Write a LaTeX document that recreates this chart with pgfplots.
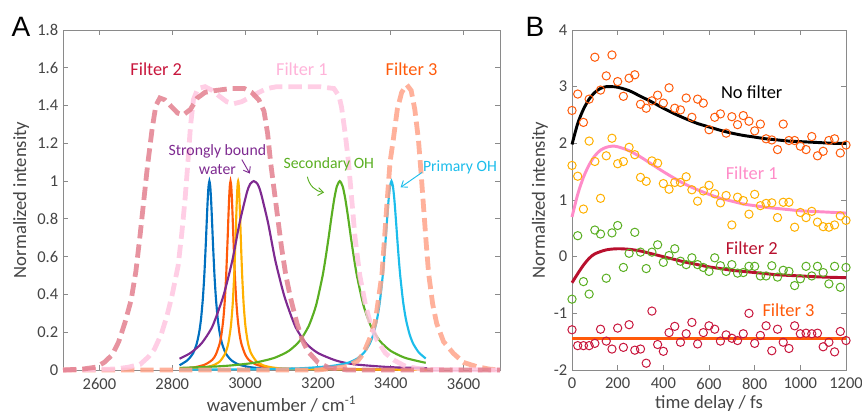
\documentclass[border=0pt]{standalone}
\usepackage{fontspec}
\setmainfont{Carlito}
\newfontfamily\arialfont{Liberation Sans}
\usepackage{pgfplots}
\pgfplotsset{compat=1.18}
\usepackage{pgfplotstable}
\usetikzlibrary{arrows.meta}

\definecolor{axgray}{HTML}{8A8A8A}
\definecolor{txgray}{HTML}{454545}
\definecolor{fTwo}{HTML}{E3808F}
\definecolor{fOne}{HTML}{FFC6E0}
\definecolor{fThree}{HTML}{FFA389}
\definecolor{cBlue}{HTML}{0070C0}
\definecolor{cRed}{HTML}{FF5A0A}
\definecolor{cYel}{HTML}{FFB000}
\definecolor{cPur}{HTML}{7E2A90}
\definecolor{cGrn}{HTML}{5AAF22}
\definecolor{cCya}{HTML}{1CBDEB}
\definecolor{tCrim}{HTML}{C8163C}
\definecolor{tPink}{HTML}{FFB3D9}
\definecolor{lPink}{HTML}{FF8CC8}
\definecolor{lDark}{HTML}{B8102E}

% panel B measurements
\pgfplotstableread{
t y
0 2.58
25 2.87
50 2.37
75 2.78
100 3.52
125 2.94
150 3.19
175 3.56
200 3.09
225 2.83
250 3.15
275 3.21
300 2.69
325 2.62
350 2.75
375 2.85
400 2.71
425 2.98
450 2.62
475 2.59
500 2.80
525 2.46
550 2.78
575 2.71
600 2.24
625 2.46
650 2.52
675 2.18
700 2.47
725 2.33
750 2.49
775 2.39
800 2.22
825 2.34
850 2.08
875 2.06
900 1.89
925 2.34
950 2.05
975 2.05
1000 1.95
1025 1.89
1050 2.12
1075 1.78
1100 1.86
1125 2.05
1150 2.08
1175 1.83
1200 1.97
}\nofilt
\pgfplotstableread{
t y
0 1.61
25 1.42
50 0.84
75 2.04
100 1.68
125 1.03
150 1.78
175 2.09
200 1.64
225 1.68
250 1.93
275 1.80
300 1.40
325 1.33
350 1.69
375 1.65
400 1.29
425 1.19
450 1.31
475 1.31
500 1.41
525 1.18
550 0.98
575 1.16
600 1.26
625 1.11
650 0.95
675 1.08
700 0.56
725 1.05
750 0.99
775 0.75
800 1.10
825 0.90
850 0.94
875 0.95
900 0.69
925 0.96
950 0.96
975 0.52
1000 0.78
1025 0.69
1050 0.80
1075 0.61
1100 0.53
1125 0.52
1150 0.56
1175 0.72
1200 0.64
}\filtone
\pgfplotstableread{
t y
0 -0.75
25 0.37
50 -0.44
75 -0.66
100 0.47
125 0.40
150 -0.38
175 0.42
200 0.55
225 -0.19
250 0.06
275 0.43
300 0.08
325 -0.21
350 0.08
375 0.21
400 -0.10
425 0.02
450 0.14
475 -0.08
500 -0.14
525 -0.02
550 -0.14
575 -0.19
600 -0.26
625 -0.02
650 -0.16
675 -0.26
700 -0.14
725 -0.29
750 -0.28
775 -0.17
800 -0.17
825 -0.34
850 -0.34
875 -0.16
900 -0.36
925 -0.24
950 -0.26
975 -0.51
1000 -0.39
1025 -0.17
1050 -0.34
1075 -0.17
1100 -0.28
1125 -0.48
1150 -0.17
1175 -0.54
1200 -0.19
}\filttwo
\pgfplotstableread{
t y
0 -1.29
25 -1.57
50 -1.57
75 -1.57
100 -1.53
125 -1.28
150 -1.49
175 -1.63
200 -1.26
225 -1.60
250 -1.20
275 -1.65
300 -1.63
325 -1.88
350 -0.96
375 -1.55
400 -1.67
425 -1.34
450 -1.23
475 -1.51
500 -1.36
525 -1.16
550 -1.54
575 -1.34
600 -1.22
625 -1.28
650 -1.49
675 -1.38
700 -1.44
725 -1.48
750 -1.36
775 -1.00
800 -1.53
825 -1.39
850 -1.22
875 -1.66
900 -1.28
925 -1.51
950 -1.62
975 -1.22
1000 -1.36
1025 -1.35
1050 -1.36
1075 -1.35
1100 -1.59
1125 -1.51
1150 -1.68
1175 -1.32
1200 -1.48
}\filtthree

\pgfplotsset{
  mstyle/.style={
    scale only axis, clip=false,
    axis line style={axgray, line width=0.75pt},
    tick style={axgray, line width=0.75pt},
    tick align=inside, major tick length=3.6pt,
    xtick pos=both, ytick pos=both,
    tick label style={font=\fontsize{12.4}{14}\selectfont, text=txgray},
    xticklabel style={yshift=-2.5pt},
    label style={font=\fontsize{14}{16}\selectfont, text=txgray},
    /pgf/number format/.cd, fixed, 1000 sep={}, assume math mode=true,
  },
  filt/.style={line width=3.6pt, dash pattern=on 10pt off 4.5pt, opacity=0.85},
  peak/.style={line width=1.6pt, smooth, tension=0.4},
  dots/.style={only marks, mark=o, mark size=3.1pt, mark options={line width=0.75pt}},
  fit/.style={line width=2.2pt, no marks, smooth},
}

\begin{document}
\begin{tikzpicture}[x=0.75pt, y=0.75pt]
\useasboundingbox (0,0) rectangle (862,-415);
\coordinate (pa) at (63,-370);
\coordinate (pb) at (572,-370);

\node[font=\arialfont\fontsize{21}{24}\selectfont] at (21,-27) {A};
\node[font=\arialfont\fontsize{21}{24}\selectfont] at (535,-27) {B};

% ---- panel A
\begin{axis}[mstyle,
  at={(pa)}, anchor=south west,
  width=327.75pt, height=255pt,
  xmin=2500, xmax=3700, ymin=0, ymax=1.8,
  xtick={2600,2800,3000,3200,3400,3600},
  ytick={0,0.2,0.4,0.6,0.8,1,1.2,1.4,1.6,1.8},
  xlabel={wavenumber / cm\textsuperscript{-1}},
  ylabel={Normalized intensity},
  xlabel style={at={(axis description cs:0.5,-0.1)}, anchor=center},
  ylabel style={at={(axis description cs:-0.096,0.5)}, anchor=center},
]
% solid bands
\addplot[peak, cBlue] coordinates {(2820,0.025) (2842,0.052) (2857,0.088) (2867,0.138) (2874,0.2) (2879,0.27) (2884,0.377) (2888,0.5) (2892,0.662) (2894.5,0.777) (2897,0.887) (2899.5,0.97) (2902,1) (2904.5,0.97) (2907,0.887) (2909.5,0.777) (2912,0.662) (2916,0.5) (2920,0.377) (2925,0.27) (2930,0.2) (2937,0.138) (2947,0.088) (2962,0.052) (2984,0.028) (3022,0.013) (3102,0.005) (3500,0.001)};
\addplot[peak, cRed] coordinates {(2820,0.007) (2860,0.014) (2890,0.029) (2910,0.054) (2920,0.083) (2930,0.138) (2935,0.187) (2940,0.265) (2944,0.36) (2948,0.5) (2952,0.692) (2954,0.8) (2956,0.9) (2958,0.973) (2960,1) (2962,0.973) (2964,0.9) (2966,0.8) (2968,0.692) (2972,0.5) (2976,0.36) (2980,0.265) (2985,0.187) (2990,0.138) (3000,0.083) (3010,0.054) (3030,0.029) (3060,0.014) (3100,0.007) (3500,0.001)};
\addplot[peak, cYel] coordinates {(2820,0.005) (2880,0.012) (2911,0.024) (2931,0.046) (2946,0.09) (2954,0.142) (2961,0.232) (2966,0.35) (2970,0.5) (2973,0.654) (2975,0.77) (2977,0.883) (2979,0.968) (2981,1) (2983,0.968) (2985,0.883) (2987,0.77) (2989,0.654) (2992,0.5) (2996,0.35) (3001,0.232) (3008,0.142) (3016,0.09) (3031,0.046) (3051,0.024) (3081,0.012) (3141,0.005) (3500,0.001)};
\addplot[peak, cPur] coordinates {(2820,0.06) (2850,0.09) (2880,0.14) (2910,0.23) (2940,0.39) (2965,0.58) (2985,0.78) (3005,0.94) (3014,0.985) (3024,1) (3034,0.985) (3043,0.94) (3063,0.78) (3083,0.58) (3108,0.39) (3138,0.23) (3168,0.14) (3200,0.09) (3250,0.05) (3300,0.03) (3400,0.015) (3500,0.01)};
\addplot[peak, cGrn] coordinates {(2820,0.011) (2910,0.0177) (2960,0.024) (3024,0.038) (3080,0.064) (3120,0.101) (3150,0.154) (3175,0.234) (3195,0.343) (3213,0.5) (3222,0.605) (3230,0.71) (3237,0.807) (3245,0.908) (3252,0.972) (3260,1) (3268,0.972) (3275,0.908) (3283,0.807) (3290,0.71) (3298,0.605) (3307,0.5) (3325,0.343) (3345,0.234) (3370,0.154) (3400,0.101) (3440,0.064) (3496,0.038)};
\addplot[peak, cCya] coordinates {(2820,0.002) (3000,0.0036) (3150,0.009) (3240,0.022) (3282,0.038) (3308,0.061) (3327,0.093) (3342,0.138) (3352,0.187) (3362,0.265) (3370,0.36) (3378,0.5) (3382,0.59) (3386,0.692) (3390,0.8) (3394,0.9) (3398,0.973) (3402,1) (3406,0.973) (3410,0.9) (3414,0.8) (3418,0.692) (3422,0.59) (3426,0.5) (3434,0.36) (3442,0.265) (3452,0.187) (3462,0.138) (3477,0.093) (3496,0.061)};
% filter transmission
\addplot[filt, fThree] coordinates {(2500,0) (3200,0) (3279,0.018) (3310,0.05) (3325,0.088) (3343,0.17) (3357,0.25) (3368,0.4) (3376,0.51) (3383,0.7) (3389,0.865) (3398,1.1) (3407,1.22) (3418,1.38) (3430,1.47) (3444,1.51) (3456,1.48) (3466,1.38) (3476,1.22) (3483,1.05) (3490,0.865) (3497,0.68) (3504,0.51) (3515,0.35) (3526,0.247) (3545,0.15) (3572,0.088) (3600,0.04) (3636,0.018) (3670,0.005) (3700,0)};
\addplot[filt, fOne] coordinates {(2500,0) (2643,0.005) (2680,0.015) (2712,0.03) (2735,0.07) (2751,0.11) (2770,0.19) (2786,0.29) (2800,0.4) (2816,0.55) (2826,0.72) (2835,0.9) (2843,1.1) (2850,1.29) (2858,1.43) (2870,1.49) (2890,1.5) (2910,1.48) (2929,1.45) (2950,1.42) (2969,1.41) (2990,1.42) (3010,1.44) (3038,1.47) (3060,1.49) (3087,1.5) (3205,1.5) (3244,1.49) (3258,1.45) (3265,1.39) (3275,1.25) (3284,1.1) (3293,0.9) (3302,0.7) (3315,0.5) (3330,0.35) (3345,0.24) (3362,0.16) (3385,0.09) (3408,0.053) (3440,0.02) (3489,0.003) (3700,0)};
\addplot[filt, fTwo] coordinates {(2500,0) (2554,0.005) (2590,0.015) (2613,0.04) (2635,0.08) (2653,0.15) (2670,0.25) (2687,0.37) (2700,0.52) (2712,0.72) (2722,0.9) (2732,1.08) (2745,1.28) (2755,1.4) (2766,1.44) (2780,1.43) (2800,1.39) (2815,1.36) (2830,1.35) (2850,1.38) (2869,1.44) (2890,1.47) (2920,1.48) (2960,1.49) (2998,1.49) (3018,1.47) (3038,1.43) (3052,1.37) (3062,1.25) (3070,1.1) (3080,0.95) (3090,0.8) (3100,0.65) (3112,0.5) (3125,0.38) (3142,0.25) (3157,0.16) (3172,0.1) (3200,0.04) (3230,0.012) (3280,0) (3700,0)};

\node[text=tCrim, font=\fontsize{13.7}{16}\selectfont] at (axis cs:2756,1.59) {Filter 2};
\node[text=tPink, font=\fontsize{13.7}{16}\selectfont] at (axis cs:3156,1.59) {Filter 1};
\node[text=cRed, font=\fontsize{13.7}{16}\selectfont] at (axis cs:3457,1.59) {Filter 3};
\node[text=cPur, font=\fontsize{11.8}{14}\selectfont, align=center, inner sep=0pt] at (axis cs:2924,1.113) {Strongly bound\\water};
\node[text=cGrn, font=\fontsize{11.8}{14}\selectfont] at (axis cs:3230,1.09) {Secondary OH};
\node[text=cCya, font=\fontsize{11.8}{14}\selectfont] at (axis cs:3590,1.075) {Primary OH};
\draw[cPur, line width=0.7pt, -{Straight Barb[length=4pt,width=6pt]}] (axis cs:2991,1.114) -- (axis cs:3013,1.04);
\draw[cGrn, line width=0.7pt, -{Straight Barb[length=4pt,width=6pt]}] (axis cs:3171,1.023) to[bend right=35] (axis cs:3217,0.94);
\draw[cCya, line width=0.7pt, -{Straight Barb[length=4pt,width=6pt]}] (axis cs:3486,1.046) -- (axis cs:3427,0.967);
\end{axis}

% ---- panel B
\begin{axis}[mstyle,
  at={(pb)}, anchor=south west,
  width=205.5pt, height=255pt,
  xmin=0, xmax=1200, ymin=-2, ymax=4,
  xtick={0,200,400,600,800,1000,1200},
  ytick={-2,-1,0,1,2,3,4},
  xlabel={time delay / fs},
  ylabel={Normalized intensity},
  xlabel style={at={(axis description cs:0.5,-0.1)}, anchor=center},
  ylabel style={at={(axis description cs:-0.117,0.5)}, anchor=center},
]
\addplot[dots, cRed] table[x=t, y=y] {\nofilt};
\addplot[dots, cYel] table[x=t, y=y] {\filtone};
\addplot[dots, cGrn] table[x=t, y=y] {\filttwo};
\addplot[dots, tCrim] table[x=t, y=y] {\filtthree};

\addplot[fit, black] coordinates {(0,1.98) (25,2.35) (50,2.6) (75,2.78) (100,2.9) (125,2.97) (150,3.0) (175,3.0) (200,2.99) (250,2.93) (300,2.83) (350,2.73) (400,2.62) (450,2.52) (500,2.43) (550,2.35) (600,2.29) (650,2.23) (700,2.18) (750,2.14) (800,2.11) (850,2.08) (900,2.06) (950,2.04) (1000,2.03) (1050,2.02) (1100,2.01) (1150,2.0) (1200,2.0)};
\addplot[fit, lPink] coordinates {(0,0.7) (25,1.1) (50,1.4) (75,1.62) (100,1.78) (125,1.88) (150,1.93) (175,1.95) (200,1.94) (250,1.87) (300,1.76) (350,1.63) (400,1.5) (450,1.38) (500,1.27) (550,1.18) (600,1.1) (650,1.03) (700,0.98) (750,0.93) (800,0.9) (850,0.87) (900,0.85) (950,0.83) (1000,0.81) (1100,0.79) (1200,0.77)};
\addplot[fit, lDark] coordinates {(0,-0.46) (25,-0.3) (50,-0.15) (75,-0.03) (100,0.05) (150,0.12) (200,0.14) (250,0.13) (300,0.1) (350,0.05) (400,0.0) (450,-0.05) (500,-0.1) (550,-0.14) (600,-0.18) (650,-0.21) (700,-0.24) (750,-0.26) (800,-0.28) (850,-0.3) (900,-0.32) (1000,-0.34) (1100,-0.36) (1200,-0.37)};
\addplot[fit, cRed] coordinates {(0,-1.45) (1200,-1.45)};

\node[text=black, font=\fontsize{13.8}{16}\selectfont] at (axis cs:787,2.9) {No filter};
\node[text=lPink, font=\fontsize{13.8}{16}\selectfont] at (axis cs:787,1.48) {Filter 1};
\node[text=lDark, font=\fontsize{13.8}{16}\selectfont] at (axis cs:787,0.153) {Filter 2};
\node[text=cRed, font=\fontsize{13.8}{16}\selectfont] at (axis cs:948,-0.94) {Filter 3};
\end{axis}
\end{tikzpicture}
\end{document}
